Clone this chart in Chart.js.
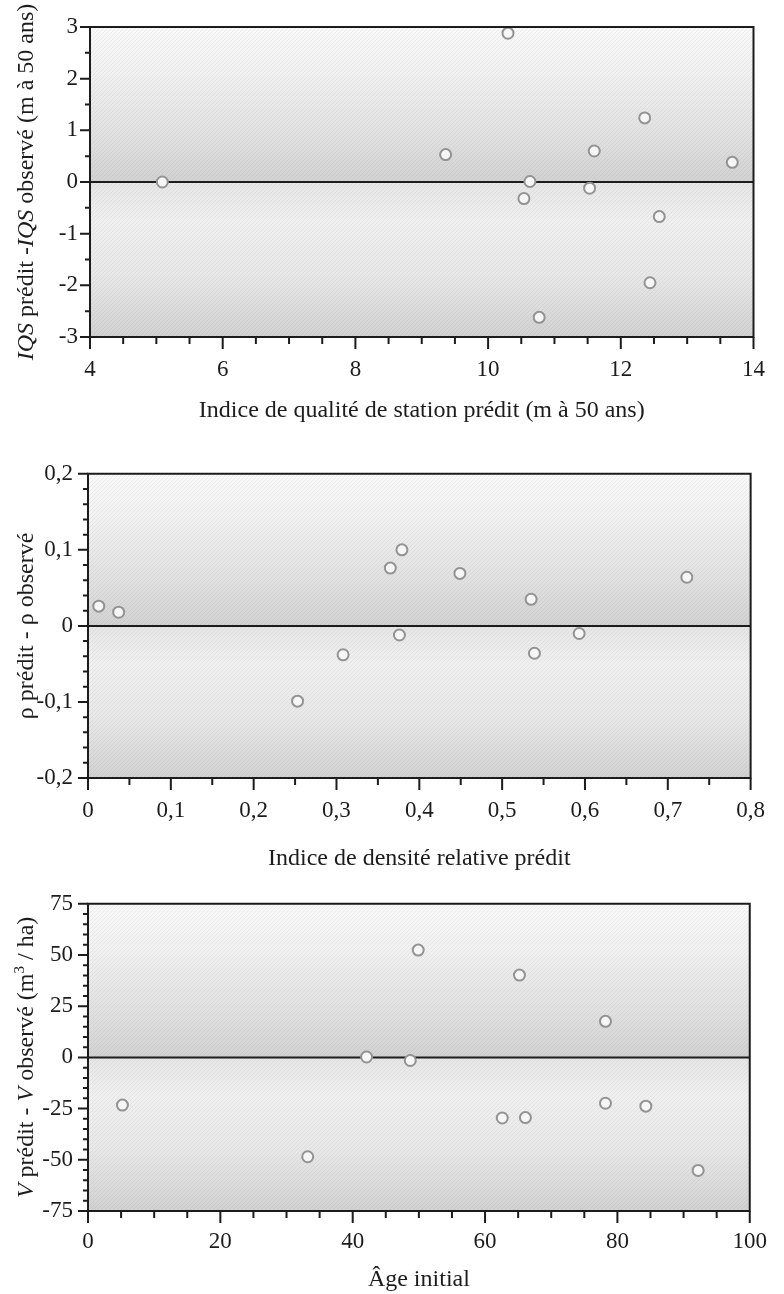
<!DOCTYPE html>
<html lang="fr">
<head>
<meta charset="utf-8">
<title>Écarts prédit - observé</title>
<script src="https://cdn.jsdelivr.net/npm/chart.js@4.4.1/dist/chart.umd.min.js"></script>
<style>
  html, body { margin: 0; padding: 0; background: #fff; }
  body { width: 784px; height: 1294px; position: relative; overflow: hidden; }
  canvas { position: absolute; left: 0; }
</style>
</head>
<body>
<canvas id="chart-iqs" width="784" height="445" style="top:0"></canvas>
<canvas id="chart-densite" width="784" height="430" style="top:445px"></canvas>
<canvas id="chart-volume" width="784" height="419" style="top:875px"></canvas>
<script>
// Panneau 1 : indice de qualité de station
const iqsPredit = [5.09, 9.36, 10.30, 10.54, 10.63, 10.77, 11.53, 11.60, 12.36, 12.44, 12.58, 13.68];
const iqsEcart  = [0.00, 0.53, 2.88, -0.32, 0.01, -2.62, -0.12, 0.60, 1.24, -1.95, -0.67, 0.38];
const iqsXTicks = [4, 6, 8, 10, 12, 14];
const iqsYTicks = [-3, -2, -1, 0, 1, 2, 3];

// Panneau 2 : indice de densité relative
const densitePredit = [0.013, 0.037, 0.253, 0.308, 0.365, 0.379, 0.376, 0.449, 0.535, 0.539, 0.593, 0.723];
const densiteEcart  = [0.026, 0.018, -0.099, -0.038, 0.076, 0.100, -0.012, 0.069, 0.035, -0.036, -0.010, 0.064];
const densiteXTicks = [0, 0.1, 0.2, 0.3, 0.4, 0.5, 0.6, 0.7, 0.8];
const densiteYTicks = [-0.2, -0.1, 0, 0.1, 0.2];

// Panneau 3 : volume selon l'âge initial
const ageInitial  = [5.2, 33.2, 42.1, 48.7, 49.9, 62.6, 65.2, 66.1, 78.2, 78.2, 84.3, 92.2];
const volumeEcart = [-23.3, -48.5, 0.2, -1.5, 52.4, -29.6, 40.2, -29.4, 17.6, -22.4, -23.8, -55.2];
const ageXTicks    = [0, 20, 40, 60, 80, 100];
const volumeYTicks = [-75, -50, -25, 0, 25, 50, 75];

const SERIF = "'Liberation Serif', 'Times New Roman', serif";
const INK = '#1c1c1c';

function fmt(v) {
    return String(v).replace('.', ',');
}

function majorLabel(list, v, step) {
    const m = list.find(t => Math.abs(t - v) < step / 10);
    return m === undefined ? '' : fmt(m);
}

// diagonal texture like the printed screen
function hatchPattern(ctx) {
    const c = document.createElement('canvas');
    c.width = 4; c.height = 4;
    const p = c.getContext('2d');
    p.strokeStyle = 'rgba(0,0,0,0.05)';
    p.lineWidth = 1;
    p.beginPath();
    p.moveTo(0, 4); p.lineTo(4, 0);
    p.stroke();
    return ctx.createPattern(c, 'repeat');
}

const panelPlugin = {
    id: 'panel',
    beforeDraw(chart) {
        const ctx = chart.ctx;
        const {left, right, top, bottom} = chart.chartArea;
        const y0 = chart.scales.y.getPixelForValue(0);
        ctx.save();
        const g1 = ctx.createLinearGradient(0, top, 0, y0);
        g1.addColorStop(0, '#f9f9f9');
        g1.addColorStop(0.3, '#f1f1f1');
        g1.addColorStop(0.7, '#e1e1e1');
        g1.addColorStop(1, '#d2d2d2');
        ctx.fillStyle = g1;
        ctx.fillRect(left, top, right - left, y0 - top);
        const g2 = ctx.createLinearGradient(0, y0, 0, bottom);
        g2.addColorStop(0, '#e6e6e6');
        g2.addColorStop(0.25, '#f0f0f0');
        g2.addColorStop(0.6, '#e8e8e8');
        g2.addColorStop(1, '#d2d2d2');
        ctx.fillStyle = g2;
        ctx.fillRect(left, y0, right - left, bottom - y0);
        ctx.fillStyle = hatchPattern(ctx);
        ctx.fillRect(left, top, right - left, bottom - top);
        ctx.restore();
    },
    afterDraw(chart, args, opts) {
        const ctx = chart.ctx;
        const {left, right, top, bottom} = chart.chartArea;
        const xs = chart.scales.x, ys = chart.scales.y;
        ctx.save();
        ctx.strokeStyle = INK;
        ctx.lineWidth = 2;
        ctx.lineCap = 'square';

        // frame
        ctx.beginPath();
        ctx.moveTo(left, bottom); ctx.lineTo(left, top); ctx.lineTo(right, top);
        ctx.lineTo(right, bottom); ctx.lineTo(left, bottom);
        ctx.stroke();

        // tick marks, long on labelled values
        ctx.lineCap = 'butt';
        ctx.beginPath();
        xs.ticks.forEach(t => {
            const px = xs.getPixelForValue(t.value);
            ctx.moveTo(px, bottom);
            ctx.lineTo(px, bottom + (t.label !== '' ? 12 : 7));
        });
        ys.ticks.forEach(t => {
            const py = ys.getPixelForValue(t.value);
            ctx.moveTo(left, py);
            ctx.lineTo(left - (t.label !== '' ? 10 : 5), py);
        });
        ctx.stroke();

        // x title
        ctx.fillStyle = INK;
        ctx.font = '24px ' + SERIF;
        ctx.textAlign = 'center';
        ctx.textBaseline = 'middle';
        ctx.fillText(opts.xTitle, (left + right) / 2, bottom + opts.xTitleOffset);

        // y title, rotated, with italic parts
        const parts = opts.yTitle;
        const fontOf = p => (p.italic ? 'italic ' : '') + (p.sup ? '15px ' : '24px ') + SERIF;
        let total = 0;
        parts.forEach(p => { ctx.font = fontOf(p); total += ctx.measureText(p.t).width; });
        ctx.translate(opts.yTitleX, (top + bottom) / 2);
        ctx.rotate(-Math.PI / 2);
        ctx.textAlign = 'left';
        ctx.textBaseline = 'alphabetic';
        let x = -total / 2;
        parts.forEach(p => {
            ctx.font = fontOf(p);
            ctx.fillText(p.t, x, p.sup ? -9 : 0);
            x += ctx.measureText(p.t).width;
        });
        ctx.restore();
    }
};

function makePanel(id, cfg) {
    const ctx = document.getElementById(id).getContext('2d');
    return new Chart(ctx, {
        type: 'scatter',
        data: {
            datasets: [{
                type: 'line',
                data: [{x: cfg.xTicks[0], y: 0}, {x: cfg.xTicks[cfg.xTicks.length - 1], y: 0}],
                borderColor: INK,
                borderWidth: 2,
                pointRadius: 0,
                order: 2
            }, {
                data: cfg.xs.map((v, i) => ({x: v, y: cfg.ys[i]})),
                pointRadius: 5.5,
                pointBorderWidth: 2,
                borderColor: '#939393',
                backgroundColor: '#f6f6f6',
                clip: false,
                order: 1
            }]
        },
        options: {
            responsive: false,
            animation: false,
            events: [],
            layout: {padding: {left: 0, top: cfg.padTop, right: cfg.padRight, bottom: 0}},
            plugins: {
                legend: {display: false},
                tooltip: {enabled: false},
                panel: {
                    xTitle: cfg.xTitle,
                    xTitleOffset: cfg.xTitleOffset,
                    yTitle: cfg.yTitle,
                    yTitleX: 33
                }
            },
            scales: {
                x: {
                    type: 'linear',
                    min: cfg.xTicks[0],
                    max: cfg.xTicks[cfg.xTicks.length - 1],
                    grid: {display: false, drawTicks: false},
                    border: {display: false},
                    afterFit: s => { s.height = cfg.xAxisHeight; },
                    ticks: {
                        stepSize: cfg.xMinor,
                        autoSkip: false,
                        maxRotation: 0,
                        padding: cfg.xPad,
                        color: INK,
                        font: {family: SERIF, size: 23},
                        callback: v => majorLabel(cfg.xTicks, v, cfg.xMinor)
                    }
                },
                y: {
                    type: 'linear',
                    min: cfg.yTicks[0],
                    max: cfg.yTicks[cfg.yTicks.length - 1],
                    grid: {display: false, drawTicks: false},
                    border: {display: false},
                    afterFit: s => { s.width = cfg.yAxisWidth; },
                    ticks: {
                        stepSize: cfg.yMinor,
                        autoSkip: false,
                        padding: cfg.yPad,
                        color: INK,
                        font: {family: SERIF, size: 23},
                        callback: v => majorLabel(cfg.yTicks, v, cfg.yMinor)
                    }
                }
            }
        },
        plugins: [panelPlugin]
    });
}

makePanel('chart-iqs', {
    xs: iqsPredit, ys: iqsEcart,
    xTicks: iqsXTicks, yTicks: iqsYTicks,
    xMinor: 0.5, yMinor: 0.5,
    padTop: 27, padRight: 16, yAxisWidth: 90, xAxisHeight: 108,
    xPad: 19, yPad: 12,
    xTitle: 'Indice de qualité de station prédit (m à 50 ans)', xTitleOffset: 74,
    yTitle: [{t: 'IQS', italic: true}, {t: ' prédit -'}, {t: 'IQS', italic: true}, {t: ' observé (m à 50 ans)'}]
});

makePanel('chart-densite', {
    xs: densitePredit, ys: densiteEcart,
    xTicks: densiteXTicks, yTicks: densiteYTicks,
    xMinor: 0.05, yMinor: 0.02,
    padTop: 26, padRight: 18, yAxisWidth: 88, xAxisHeight: 97,
    xPad: 19, yPad: 15,
    xTitle: 'Indice de densité relative prédit', xTitleOffset: 81,
    yTitle: [{t: 'ρ prédit - ρ observé'}]
});

makePanel('chart-volume', {
    xs: ageInitial, ys: volumeEcart,
    xTicks: ageXTicks, yTicks: volumeYTicks,
    xMinor: 5, yMinor: 5,
    padTop: 28, padRight: 19, yAxisWidth: 88, xAxisHeight: 83,
    xPad: 17, yPad: 15,
    xTitle: 'Âge initial', xTitleOffset: 69,
    yTitle: [{t: 'V', italic: true}, {t: ' prédit - '}, {t: 'V', italic: true}, {t: ' observé (m'}, {t: '3', sup: true}, {t: ' / ha)'}]
});
</script>
</body>
</html>
